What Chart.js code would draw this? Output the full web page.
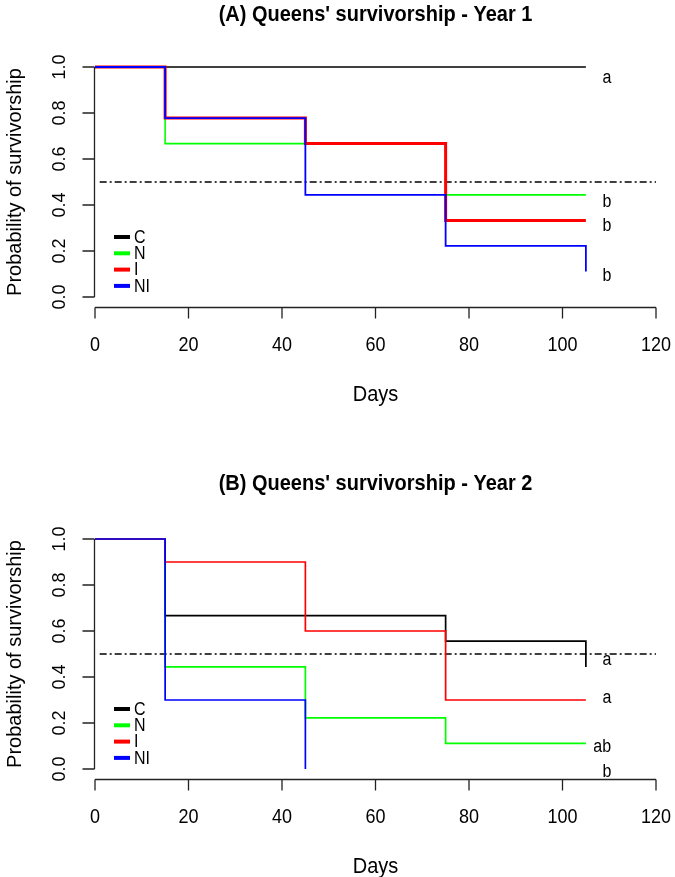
<!DOCTYPE html>
<html>
<head>
<meta charset="utf-8">
<script src="https://cdn.jsdelivr.net/npm/chart.js@4"></script>
<style>
  body { margin: 0; background: #fff; }
  canvas { position: absolute; left: 0; }
</style>
</head>
<body>
<canvas id="chartA" width="675" height="438" style="top:0"></canvas>
<canvas id="chartB" width="675" height="439" style="top:438px"></canvas>
<script>
// --- data -------------------------------------------------------------
const groups = ['C', 'N', 'I', 'NI'];
const xTicks = [0, 20, 40, 60, 80, 100, 120];
const yTicks = [0, 0.2, 0.4, 0.6, 0.8, 1.0];
const halfSurv = 0.5;

// Year 1 survival steps
const days1 = [0, 15, 45, 75, 105];
const y1C = [1, 1, 1, 1, 1];
const y1N = [1, 0.667, 0.667, 0.444, 0.444];
const y1I = [1, 0.778, 0.667, 0.333, 0.333];
const y1NI = [1, 0.778, 0.444, 0.222, 0.111];
const letters1 = ['a', 'b', 'b', 'b'];

// Year 2 survival steps
const days2 = [0, 15, 45, 75, 105];
const y2C = [1, 0.667, 0.667, 0.556, 0.444];
const y2N = [1, 0.444, 0.222, 0.111, 0.111];
const y2I = [1, 0.9, 0.6, 0.3, 0.3];
const days2NI = [0, 15, 45];
const y2NI = [1, 0.3, 0];
const letters2 = ['a', 'ab', 'a', 'b'];

// --- styling ----------------------------------------------------------
const colors = ['#000000', '#00ff00', '#ff0000', '#0000ff'];
const FONT = '"Liberation Sans", Arial, sans-serif';
const STRETCH = 1.1; // source image text is a bit taller than wide

function pts(xs, ys) {
  return xs.map((d, i) => ({ x: d, y: ys[i] }));
}

function kmSet(i, xs, ys, width) {
  return {
    label: groups[i],
    data: pts(xs, ys),
    borderColor: colors[i],
    borderWidth: width,
    stepped: true,
    pointRadius: 0,
    fill: false,
    order: 3 - i
  };
}

function halfLine() {
  return {
    label: 'half',
    data: [{ x: 1, y: halfSurv }, { x: 120, y: halfSurv }],
    borderColor: '#000',
    borderWidth: 1.4,
    borderDash: [7, 3, 2, 3],
    pointRadius: 0,
    order: 5
  };
}

// horizontal text with a slight vertical stretch
function txt(ctx, s, x, y) {
  ctx.save();
  ctx.translate(x, y);
  ctx.scale(1, STRETCH);
  ctx.fillText(s, 0, 0);
  ctx.restore();
}

// R-style axes, titles, legend and letters
function rPlot(cfg) {
  return {
    id: 'rPlot',
    afterDraw(chart) {
      const { ctx, chartArea, scales: { x, y } } = chart;
      ctx.save();

      // axes + ticks
      ctx.strokeStyle = '#222';
      ctx.lineWidth = 1.3;
      const xb = Math.round(chartArea.bottom) + 0.5;
      const yl = Math.round(x.getPixelForValue(0)) - 0.5;
      ctx.beginPath();
      ctx.moveTo(x.getPixelForValue(0), xb);
      ctx.lineTo(x.getPixelForValue(120), xb);
      xTicks.forEach(t => {
        const px = x.getPixelForValue(t);
        ctx.moveTo(px, xb);
        ctx.lineTo(px, xb + 11);
      });
      ctx.moveTo(yl, y.getPixelForValue(0));
      ctx.lineTo(yl, y.getPixelForValue(1));
      yTicks.forEach(t => {
        const py = y.getPixelForValue(t);
        ctx.moveTo(yl, py);
        ctx.lineTo(yl - 12, py);
      });
      ctx.stroke();

      ctx.fillStyle = '#000';
      ctx.textAlign = 'center';
      ctx.textBaseline = 'middle';

      // tick labels
      ctx.font = '18px ' + FONT;
      xTicks.forEach(t => txt(ctx, String(t), x.getPixelForValue(t), xb + 38));
      yTicks.forEach(t => {
        ctx.save();
        ctx.translate(60, y.getPixelForValue(t));
        ctx.rotate(-Math.PI / 2);
        ctx.fillText(t.toFixed(1), 0, 0);
        ctx.restore();
      });

      // axis titles
      const midX = (x.getPixelForValue(0) + x.getPixelForValue(120)) / 2;
      const midY = (y.getPixelForValue(0) + y.getPixelForValue(1)) / 2;
      ctx.font = '20px ' + FONT;
      txt(ctx, 'Days', midX, xb + 87);
      ctx.save();
      ctx.translate(15, midY);
      ctx.rotate(-Math.PI / 2);
      ctx.fillText('Probability of survivorship', 0, 0);
      ctx.restore();

      // main title
      ctx.font = 'bold 20px ' + FONT;
      txt(ctx, cfg.title, midX, cfg.titleY);

      // legend
      const y0 = y.getPixelForValue(0);
      ctx.font = '16px ' + FONT;
      ctx.textAlign = 'left';
      groups.forEach((g, i) => {
        const ry = y0 - 60 + i * 16.3;
        ctx.strokeStyle = colors[i];
        ctx.lineWidth = 4;
        ctx.beginPath();
        ctx.moveTo(114, ry);
        ctx.lineTo(130, ry);
        ctx.stroke();
        txt(ctx, g, 134, ry + 1);
      });

      // significance letters
      ctx.font = '16px ' + FONT;
      ctx.textAlign = 'center';
      cfg.letters.forEach((l, i) => {
        txt(ctx, l, x.getPixelForValue(cfg.letterX[i]), y.getPixelForValue(cfg.letterY[i]));
      });

      ctx.restore();
    }
  };
}

function makeChart(id, datasets, pad, cfg) {
  return new Chart(document.getElementById(id), {
    type: 'line',
    data: { datasets },
    options: {
      responsive: false,
      animation: false,
      layout: { padding: pad },
      scales: {
        x: { type: 'linear', min: 0, max: 120, display: false },
        y: { type: 'linear', min: -0.045, max: 1.04, display: false }
      },
      plugins: { legend: { display: false }, tooltip: { enabled: false } }
    },
    plugins: [rPlot(cfg)]
  });
}

makeChart('chartA', [
  kmSet(0, days1, y1C, 1.6),
  kmSet(1, days1, y1N, 1.6),
  kmSet(2, days1, y1I, 3),
  kmSet(3, days1, y1NI, 1.8),
  halfLine()
], { left: 95, right: 19, top: 57.8, bottom: 130.65 }, {
  title: "(A) Queens' survivorship - Year 1",
  titleY: 15,
  letters: letters1,
  letterX: [109.5, 109.5, 109.5, 109.5],
  letterY: [0.952, 0.413, 0.309, 0.091]
});

makeChart('chartB', [
  kmSet(0, days2, y2C, 1.7),
  kmSet(1, days2, y2N, 1.7),
  kmSet(2, days2, y2I, 1.7),
  kmSet(3, days2NI, y2NI, 1.7),
  halfLine()
], { left: 95, right: 19, top: 91.8, bottom: 97.65 }, {
  title: "(B) Queens' survivorship - Year 2",
  titleY: 46,
  letters: letters2,
  letterX: [109.5, 108.5, 109.5, 109.5],
  letterY: [0.474, 0.096, 0.309, -0.013]
});
</script>
</body>
</html>
